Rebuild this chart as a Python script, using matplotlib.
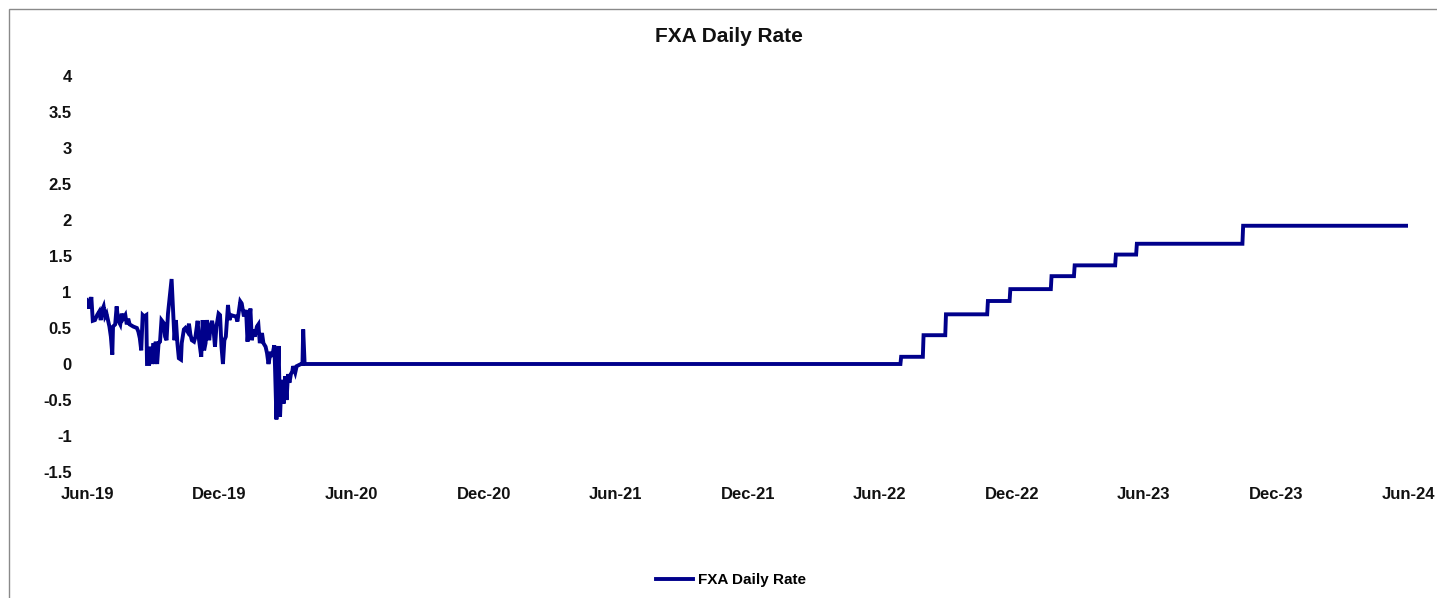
import matplotlib
matplotlib.use('Agg')
import matplotlib.pyplot as plt
import matplotlib.dates as mdates
from matplotlib.patches import Rectangle
import pandas as pd

plt.rcParams['font.family'] = ['Liberation Sans', 'DejaVu Sans']
plt.rcParams['font.weight'] = 'bold'

START = pd.Timestamp('2019-06-01')

# volatile period, days after 2019-06-01 and rate
NOISY_DAYS = [0, 3, 6, 8, 11, 14, 17, 19, 21, 23, 25, 27, 31, 33, 35, 36, 39, 41, 43, 46,
              48, 50, 53, 55, 57, 59, 64, 69, 71, 73, 75, 77, 79, 82, 83, 86, 88, 90, 92, 94,
              95, 97, 99, 101, 103, 106, 108, 110, 112, 115, 117, 119, 121, 123, 125, 127, 130,
              131, 134, 136, 139, 141, 143, 145, 148, 150, 153, 155, 158, 160, 162, 164, 166,
              169, 171, 173, 175, 177, 179, 182, 184, 186, 188, 190, 192, 195, 197, 199, 202,
              206, 208, 212, 214, 217, 220, 222, 224, 226, 228, 230, 232, 235, 237, 239, 242,
              244, 247, 249, 251, 254, 256, 259, 260, 262, 265, 267, 269, 272, 274, 276, 278,
              280, 282, 284, 285, 288, 290, 292, 296, 298, 299, 301]
NOISY_VALUES = [0.89, 0.77, 0.93, 0.60, 0.61, 0.68, 0.73, 0.61, 0.75, 0.80, 0.66, 0.70, 0.52,
                0.38, 0.13, 0.52, 0.55, 0.80, 0.61, 0.55, 0.70, 0.63, 0.68, 0.55, 0.63, 0.55,
                0.52, 0.50, 0.45, 0.36, 0.19, 0.68, 0.66, 0.68, 0.0, 0.0, 0.24, 0.0, 0.29, 0.0,
                0.31, 0.0, 0.29, 0.31, 0.61, 0.57, 0.38, 0.33, 0.70, 0.98, 1.18, 0.75, 0.33,
                0.61, 0.29, 0.08, 0.06, 0.29, 0.48, 0.50, 0.45, 0.56, 0.41, 0.33, 0.31, 0.38,
                0.60, 0.33, 0.10, 0.61, 0.19, 0.29, 0.61, 0.33, 0.52, 0.60, 0.48, 0.24, 0.52,
                0.70, 0.68, 0.24, 0.0, 0.33, 0.38, 0.82, 0.61, 0.68, 0.67, 0.66, 0.59, 0.87,
                0.84, 0.66, 0.75, 0.31, 0.57, 0.77, 0.33, 0.48, 0.38, 0.52, 0.55, 0.29, 0.43,
                0.29, 0.24, 0.15, 0.0, 0.17, 0.10, 0.26, -0.03, -0.77, 0.25, -0.73, -0.22,
                -0.55, -0.17, -0.50, -0.14, -0.26, -0.14, -0.10, -0.03, -0.12, -0.03, -0.02,
                0.0, 0.0, 0.48, 0.0]

# rate changes after the flat period (value holds until next change)
STEP_DATES = ['2020-03-28', '2022-07-01', '2022-08-01', '2022-09-01', '2022-10-29',
              '2022-11-29', '2023-01-25', '2023-02-26', '2023-04-24', '2023-05-23',
              '2023-10-17', '2024-06-01']
STEP_VALUES = [0.0, 0.10, 0.40, 0.69, 0.875, 1.04, 1.22, 1.37, 1.52, 1.67, 1.92, 1.92]

TICK_DATES = pd.date_range('2019-06-01', '2024-06-01', freq='6MS')
Y_TICKS = [-1.5, -1, -0.5, 0, 0.5, 1, 1.5, 2, 2.5, 3, 3.5, 4]

LINE_COLOR = '#00008B'


def build_series():
    noisy = pd.Series(NOISY_VALUES, index=START + pd.to_timedelta(NOISY_DAYS, unit='D'))
    steps = pd.Series(STEP_VALUES, index=pd.to_datetime(STEP_DATES))
    steps = steps.reindex(pd.date_range(steps.index[0], steps.index[-1], freq='D')).ffill()
    return pd.concat([noisy, steps])


def main():
    W, H = 1437, 598
    fig = plt.figure(figsize=(W / 100, H / 100), dpi=100)
    left, right, top, bottom = 87, 1408, 76, 472
    ax = fig.add_axes([left / W, 1 - bottom / H, (right - left) / W, (bottom - top) / H])

    s = build_series()
    ax.plot(s.index, s.values, color=LINE_COLOR, linewidth=2.8, label='FXA Daily Rate',
            solid_joinstyle='miter')

    ax.set_xlim(TICK_DATES[0], TICK_DATES[-1])
    ax.set_ylim(-1.5, 4)
    ax.set_xticks(TICK_DATES)
    ax.xaxis.set_major_formatter(mdates.DateFormatter('%b-%y'))
    ax.set_yticks(Y_TICKS)
    ax.set_yticklabels(['{:g}'.format(v) for v in Y_TICKS])
    ax.tick_params(length=0, labelsize=12, colors='#111111')
    ax.tick_params(axis='x', pad=11)
    ax.tick_params(axis='y', pad=11)
    for sp in ax.spines.values():
        sp.set_visible(False)

    fig.text(729 / W, 1 - 36 / H, 'FXA Daily Rate', ha='center', va='center',
             fontsize=15, fontweight='bold', color='#111111')
    fig.legend(loc='center', bbox_to_anchor=(731 / W, 1 - 580 / H), frameon=False,
               fontsize=11, handlelength=2.4, handletextpad=0.3)

    fig.patches.append(Rectangle((9 / W, -0.05), 1.1, 1 - 9 / H + 0.05, transform=fig.transFigure,
                                 fill=False, edgecolor='#8a8a8a', linewidth=1))

    fig.savefig('out.png', dpi=100)


if __name__ == '__main__':
    main()
